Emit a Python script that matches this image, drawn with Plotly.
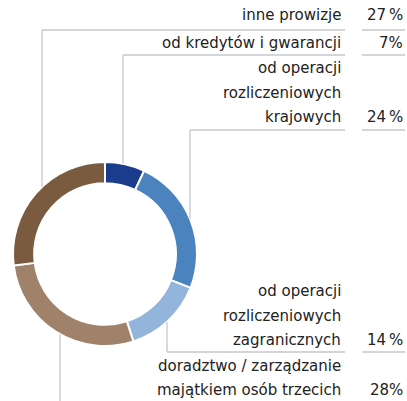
import math
import plotly.graph_objects as go

# ---- data ----
labels = [
    "od kredytów i gwarancji",
    "od operacji<br>rozliczeniowych<br>krajowych",
    "od operacji<br>rozliczeniowych<br>zagranicznych",
    "doradztwo / zarządzanie<br>majątkiem osób trzecich",
    "inne prowizje",
]
values = [7, 24, 14, 28, 27]
pct_text = ["7%", "24\u2009%", "14\u2009%", "28%", "27\u2009%"]
colors = ["#1b3b8c", "#4b83bf", "#93b4db", "#a0826b", "#7b5b3f"]

# ---- layout geometry (pixels) ----
W, H = 407, 401
CX, CY, R = 105, 254, 92
HOLE = 0.77
LINE_COLOR = "#c3c8ce"
TEXT_COLOR = "#222222"
FONT = "DejaVu Sans"
FS = 15
TEXT_RIGHT = 343
PCT_RIGHT = 405
PCT_LINE = (362, 405)

# per-slice leader config: vertical x, horizontal y (line under label), label rows
leader_x = [123, 190, 167, 60, 42]
leader_y = [55, 130, 352, 401, 30]
label_center_y = [43, 117, 340, 390, 15]   # y of last text row
row_gap = 24.5

fig = go.Figure()
fig.add_trace(go.Pie(
    labels=labels, values=values, sort=False, direction="clockwise",
    rotation=0, hole=HOLE, textinfo="none", hoverinfo="label+percent",
    marker=dict(colors=colors, line=dict(color="white", width=2)),
    domain=dict(x=[(CX - R) / W, (CX + R) / W], y=[1 - (CY + R) / H, 1 - (CY - R) / H]),
    showlegend=False,
))

shapes = []
annotations = []
for i, lab in enumerate(labels):
    lx = leader_x[i]
    ly = leader_y[i]
    dx = lx - CX
    dy = math.sqrt(max(R * R - dx * dx, 0))
    y0 = CY - dy if ly < CY else CY + dy
    shapes.append(dict(type="line", x0=lx, x1=lx, y0=y0, y1=ly,
                       line=dict(color=LINE_COLOR, width=1.3)))
    if ly < H - 2:
        shapes.append(dict(type="line", x0=lx, x1=TEXT_RIGHT + 2, y0=ly, y1=ly,
                           line=dict(color=LINE_COLOR, width=1.3)))
        shapes.append(dict(type="line", x0=PCT_LINE[0], x1=PCT_LINE[1], y0=ly, y1=ly,
                           line=dict(color=LINE_COLOR, width=1.3)))
    rows = lab.split("<br>")
    for k, row in enumerate(rows):
        yy = label_center_y[i] - (len(rows) - 1 - k) * row_gap
        annotations.append(dict(x=TEXT_RIGHT, y=yy, text=row, showarrow=False,
                                xanchor="right", yanchor="middle", xref="x", yref="y",
                                font=dict(family=FONT, size=FS, color=TEXT_COLOR)))
    annotations.append(dict(x=PCT_RIGHT, y=label_center_y[i], text=pct_text[i], showarrow=False,
                            xanchor="right", yanchor="middle", xref="x", yref="y",
                            font=dict(family=FONT, size=FS, color=TEXT_COLOR)))

fig.update_layout(
    width=W, height=H, margin=dict(l=0, r=0, t=0, b=0),
    paper_bgcolor="white", plot_bgcolor="white",
    xaxis=dict(range=[0, W], visible=False, fixedrange=True),
    yaxis=dict(range=[H, 0], visible=False, fixedrange=True),
    shapes=shapes, annotations=annotations,
)
fig.write_html(
    "out.html",
    config={"displayModeBar": False},
    post_script="document.body.style.margin='0';document.body.style.padding='0';document.body.style.overflow='hidden';",
)
